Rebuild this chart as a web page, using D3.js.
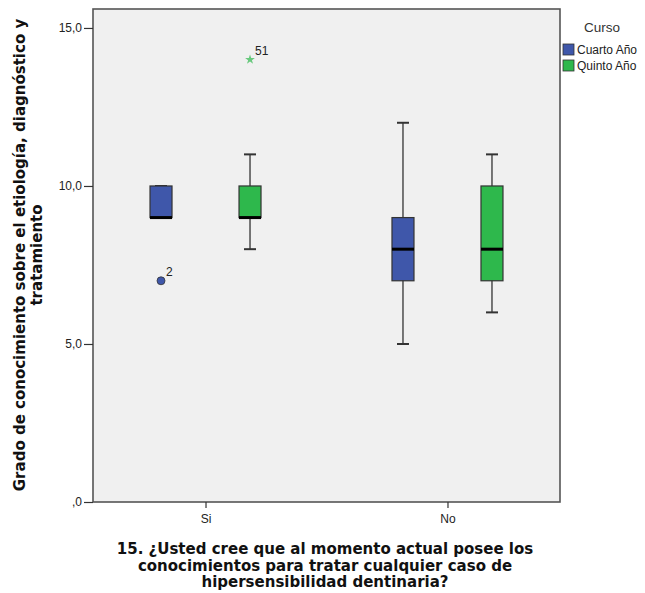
<!DOCTYPE html>
<html>
<head>
<meta charset="utf-8">
<script src="https://cdn.jsdelivr.net/npm/d3@7"></script>
<style>
  body { margin: 0; background: #fff; }
  svg { font-family: "Liberation Sans", Arial, sans-serif; }
</style>
</head>
<body>
<svg class="chart" width="645" height="593"></svg>
<script>
var categories = ["Si", "No"];
var series = ["Cuarto Año", "Quinto Año"];
var colors = ["#3F57AA", "#2EB84C"];
// [group, series, low whisker, Q1, median, Q3, high whisker]
var boxes = [
  ["Si", "Cuarto Año", 9, 9, 9, 10, 10],
  ["Si", "Quinto Año", 8, 9, 9, 10, 11],
  ["No", "Cuarto Año", 5, 7, 8, 9, 12],
  ["No", "Quinto Año", 6, 7, 8, 10, 11]
];
// [group, series, value, case label, kind]
var outliers = [
  ["Si", "Cuarto Año", 7, "2", "circle"],
  ["Si", "Quinto Año", 14, "51", "star"]
];
var yTicks = [0, 5, 10, 15];

var pLeft = 93, pRight = 560, pTop = 9, pBottom = 502;
var svg = d3.select(".chart");

var y = d3.scaleLinear().domain([0, 15.6]).range([pBottom, pTop]);
var x = d3.scalePoint().domain(categories).range([pLeft, pRight]).padding(0.465);
var xs = d3.scalePoint().domain(series).range([-44.5, 44.5]);
var color = d3.scaleOrdinal().domain(series).range(colors);
var bw = 22;

function cx(d) { return x(d[0]) + xs(d[1]); }

svg.append("rect")
  .attr("x", pLeft).attr("y", pTop)
  .attr("width", pRight - pLeft).attr("height", pBottom - pTop)
  .attr("fill", "#F0F0F0").attr("stroke", "#555").attr("stroke-width", 1.6);

// y axis
var yAxis = svg.append("g")
  .attr("transform", "translate(" + pLeft + ",0)")
  .call(d3.axisLeft(y).tickValues(yTicks).tickSize(9)
    .tickFormat(function(d) { return d === 0 ? ",0" : d3.format(".1f")(d).replace(".", ","); }));
yAxis.select(".domain").remove();
yAxis.selectAll("line").attr("stroke", "#333").attr("stroke-width", 1.2);
yAxis.selectAll("text").attr("font-size", 12).attr("fill", "#222").attr("x", -11);

// x axis
var xAxis = svg.append("g")
  .attr("transform", "translate(0," + pBottom + ")")
  .call(d3.axisBottom(x).tickSize(6));
xAxis.select(".domain").remove();
xAxis.selectAll("line").attr("stroke", "#333").attr("stroke-width", 1.2);
xAxis.selectAll("text").attr("font-size", 12).attr("fill", "#222").attr("y", 12);

var box = svg.selectAll("g.box")
  .data(boxes)
  .enter().append("g").attr("class", "box")
  .attr("transform", function(d) { return "translate(" + cx(d) + ",0)"; });

box.append("line")
  .attr("x1", 0).attr("x2", 0)
  .attr("y1", function(d) { return y(d[2]); })
  .attr("y2", function(d) { return y(d[6]); })
  .attr("stroke", "#333").attr("stroke-width", 1.3);
box.append("line")
  .attr("x1", -6).attr("x2", 6)
  .attr("y1", function(d) { return y(d[2]); })
  .attr("y2", function(d) { return y(d[2]); })
  .attr("stroke", "#333").attr("stroke-width", 2);
box.append("line")
  .attr("x1", -6).attr("x2", 6)
  .attr("y1", function(d) { return y(d[6]); })
  .attr("y2", function(d) { return y(d[6]); })
  .attr("stroke", "#333").attr("stroke-width", 2);
box.append("rect")
  .attr("x", -bw / 2).attr("width", bw)
  .attr("y", function(d) { return y(d[5]); })
  .attr("height", function(d) { return y(d[3]) - y(d[5]); })
  .attr("fill", function(d) { return color(d[1]); })
  .attr("stroke", "#333").attr("stroke-width", 1.2);
box.append("line")
  .attr("x1", -bw / 2).attr("x2", bw / 2)
  .attr("y1", function(d) { return y(d[4]); })
  .attr("y2", function(d) { return y(d[4]); })
  .attr("stroke", "#000").attr("stroke-width", 3);

var out = svg.selectAll("g.out")
  .data(outliers)
  .enter().append("g").attr("class", "out")
  .attr("transform", function(d) { return "translate(" + cx(d) + "," + y(d[2]) + ")"; });
out.append("path")
  .attr("d", function(d) {
    return d[4] === "circle" ? d3.symbol(d3.symbolCircle, 50)() : d3.symbol(d3.symbolStar, 30)();
  })
  .attr("fill", function(d) { return color(d[1]); })
  .attr("fill-opacity", function(d) { return d[4] === "star" ? 0.7 : 1; })
  .attr("stroke", function(d) { return d[4] === "circle" ? "#333" : "none"; })
  .attr("stroke-width", 0.8);
out.append("text")
  .attr("x", 5).attr("y", -5)
  .attr("font-size", 12).attr("fill", "#222")
  .text(function(d) { return d[3]; });

// legend
svg.append("text").attr("x", 584).attr("y", 32)
  .attr("font-size", 13.5).attr("fill", "#333").text("Curso");
var leg = svg.selectAll("g.leg")
  .data(series)
  .enter().append("g").attr("class", "leg")
  .attr("transform", function(d, i) { return "translate(563," + (44 + i * 16) + ")"; });
leg.append("rect").attr("width", 11).attr("height", 11)
  .attr("fill", function(d) { return color(d); })
  .attr("stroke", "#333").attr("stroke-width", 0.8);
leg.append("text").attr("x", 14).attr("y", 10)
  .attr("font-size", 12).attr("fill", "#222").text(function(d) { return d; });

// axis titles
var yt = svg.append("text")
  .attr("transform", "translate(0,255) rotate(-90)")
  .attr("text-anchor", "middle").attr("font-family", "DejaVu Sans")
  .attr("font-size", 15).attr("font-weight", "bold").attr("fill", "#111");
yt.append("tspan").attr("x", 0).attr("y", 25).text("Grado de conocimiento sobre el etiología, diagnóstico y");
yt.append("tspan").attr("x", 0).attr("y", 42).text("tratamiento");

var xt = svg.append("text")
  .attr("text-anchor", "middle").attr("font-family", "DejaVu Sans")
  .attr("font-size", 15).attr("font-weight", "bold").attr("fill", "#111");
["15. ¿Usted cree que al momento actual posee los",
 "conocimientos para tratar cualquier caso de",
 "hipersensibilidad dentinaria?"].forEach(function(t, i) {
  xt.append("tspan").attr("x", 325).attr("y", 554 + i * 16.5).text(t);
});
</script>
</body>
</html>
